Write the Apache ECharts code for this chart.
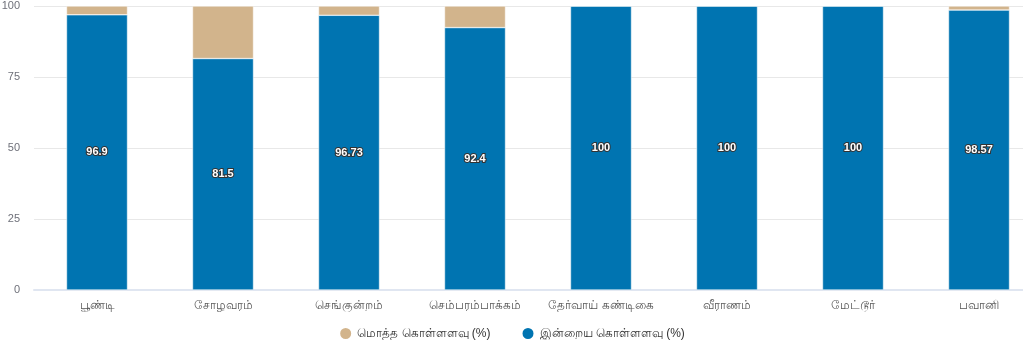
<!DOCTYPE html>
<html><head><meta charset="utf-8">
<script src="https://cdn.jsdelivr.net/npm/echarts@6/dist/echarts.min.js"></script>
<style>html,body{margin:0;padding:0;background:#fff}#c{width:1023px;height:362px}</style>
</head><body><div id="c"></div>
<script>
const categories = ['பூண்டி','சோழவரம்','செங்குன்றம்','செம்பரம்பாக்கம்','தேர்வாய் கண்டிகை','வீராணம்','மேட்டூர்','பவானி'];
const todayValues = [96.9, 81.5, 96.73, 92.4, 100, 100, 100, 98.57];
const totalRemainder = [3.1, 18.5, 3.27, 7.6, 0, 0, 0, 1.43];
const yTicks = [0, 25, 50, 75, 100];
const seriesNames = ['மொத்த கொள்ளளவு (%)', 'இன்றைய கொள்ளளவு (%)'];

const chart = echarts.init(document.getElementById('c'));
chart.setOption({
  animation: false,
  grid: { left: 34, top: 6, bottom: 72, width: 1008, outerBoundsMode: 'none', containLabel: false },
  legend: {
    data: seriesNames, bottom: 16, left: 'center', icon: 'circle',
    itemWidth: 13, itemHeight: 13, itemGap: 30,
    textStyle: { color: '#333', fontSize: 12 }
  },
  xAxis: {
    type: 'category', data: categories,
    axisTick: { show: false },
    axisLine: { lineStyle: { color: '#E0E6F1', width: 2 } },
    axisLabel: { color: '#555', fontSize: 12, margin: 10, interval: 0 }
  },
  yAxis: {
    type: 'value', min: yTicks[0], max: yTicks[yTicks.length - 1], interval: 25,
    axisLabel: { color: '#6E7079', fontSize: 11, margin: 14 },
    splitLine: { lineStyle: { color: '#E8E8E8' } }
  },
  series: [
    {
      name: seriesNames[1], type: 'bar', stack: 's', data: todayValues, barWidth: 61,
      itemStyle: { color: '#0074B1', borderColor: '#fff', borderWidth: 0.5 },
      label: { show: true, position: 'inside', color: '#fff', fontWeight: 'bold', fontSize: 11,
        textBorderColor: '#333', textBorderWidth: 2 }
    },
    {
      name: seriesNames[0], type: 'bar', stack: 's', data: totalRemainder, barWidth: 61,
      itemStyle: { color: '#D2B48C', borderColor: '#fff', borderWidth: 0.5 }
    }
  ]
});
</script></body></html>
